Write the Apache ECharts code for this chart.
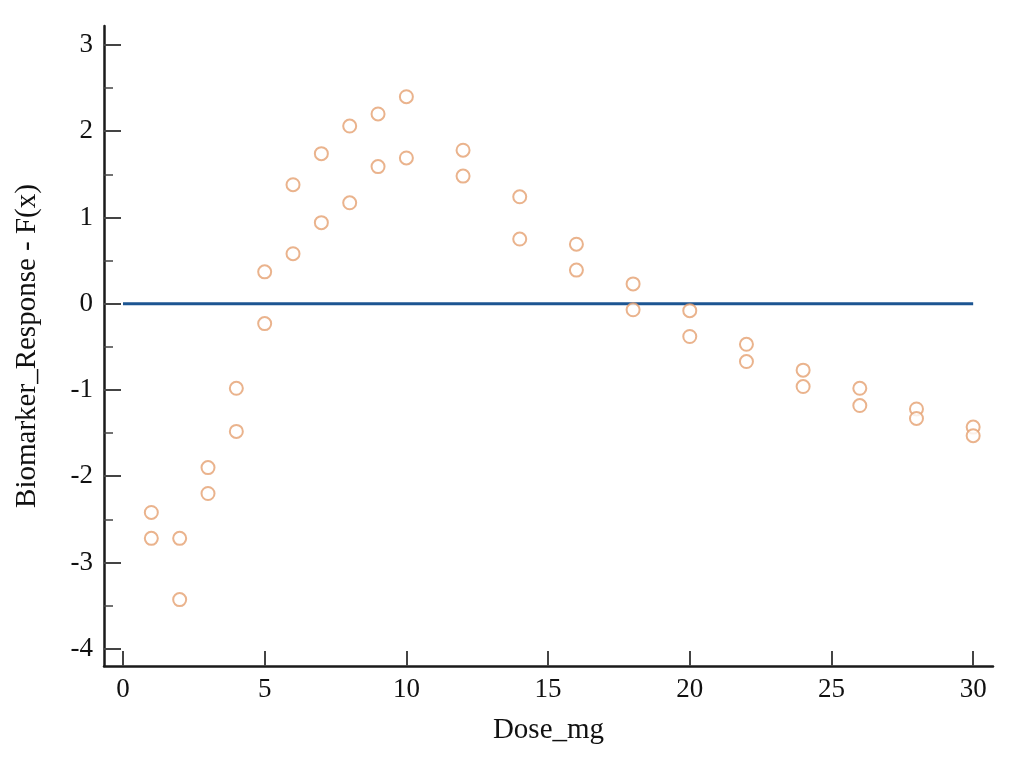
<!DOCTYPE html>
<html>
<head>
<meta charset="utf-8">
<script src="https://cdn.jsdelivr.net/npm/echarts@6/dist/echarts.min.js"></script>
<style>html,body{margin:0;padding:0;background:#fff}#c{width:1024px;height:768px}</style>
</head>
<body>
<div id="c"></div>
<script>
const doses = [1,2,3,4,5,6,7,8,9,10,12,14,16,18,20,22,24,26,28,30];
const responseUpper = [-2.42,-2.72,-1.90,-0.98,0.37,1.38,1.74,2.06,2.20,2.40,1.78,1.24,0.69,0.23,-0.08,-0.47,-0.77,-0.98,-1.22,-1.43];
const responseLower = [-2.72,-3.43,-2.20,-1.48,-0.23,0.58,0.94,1.17,1.59,1.69,1.48,0.75,0.39,-0.07,-0.38,-0.67,-0.96,-1.18,-1.33,-1.53];
const fitX = [0,30];
const fitY = [0,0];
const xTicks = [0,5,10,15,20,25,30];
const yTicks = [-4,-3,-2,-1,0,1,2,3];
const yMinorTicks = [-3.5,-2.5,-1.5,-0.5,0.5,1.5,2.5];

const points = [];
doses.forEach((d,i)=>{ points.push([d,responseUpper[i]]); points.push([d,responseLower[i]]); });
const fitLine = fitX.map((x,i)=>[x,fitY[i]]);

const font = 'Liberation Serif';
const chart = echarts.init(document.getElementById('c'));
chart.setOption({
  animation:false,
  grid:{left:104,right:31,top:26,bottom:102,containLabel:false},
  xAxis:{
    type:'value', min:-0.67, max:30.7,
    axisLine:{show:true,onZero:false,lineStyle:{color:'#1a1a1a',width:2.5}},
    axisTick:{show:true,inside:true,length:15,customValues:xTicks,lineStyle:{color:'#444',width:2}},
    axisLabel:{customValues:xTicks,fontFamily:font,fontSize:27,color:'#111',margin:10},
    splitLine:{show:false},
    name:'Dose_mg', nameLocation:'middle', nameGap:50,
    nameTextStyle:{fontFamily:font,fontSize:29,color:'#111'}
  },
  yAxis:[{
    type:'value', min:-4.2, max:3.22,
    axisLine:{show:true,onZero:false,lineStyle:{color:'#1a1a1a',width:2.5}},
    axisTick:{show:true,inside:true,length:17,customValues:yTicks,lineStyle:{color:'#444',width:2}},
    axisLabel:{customValues:yTicks,fontFamily:font,fontSize:27,color:'#111',margin:11},
    splitLine:{show:false},
    name:'Biomarker_Response - F(x)', nameLocation:'middle', nameGap:62,
    nameTextStyle:{fontFamily:font,fontSize:29,color:'#111'}
  },{
    type:'value', min:-4.2, max:3.22, position:'left',
    axisLine:{show:false,onZero:false},
    axisTick:{show:true,inside:true,length:9,customValues:yMinorTicks,lineStyle:{color:'#444',width:1.5}},
    axisLabel:{show:false},
    splitLine:{show:false}
  }],
  series:[{
    type:'line', data:fitLine, showSymbol:false, symbol:'none',
    lineStyle:{color:'#1C5592',width:3}, z:2, silent:true
  },{
    type:'scatter', data:points, symbol:'emptyCircle', symbolSize:13,
    itemStyle:{color:'#E5A070',borderColor:'#E5A070',borderWidth:1.2}, z:3
  }]
});
</script>
</body>
</html>
